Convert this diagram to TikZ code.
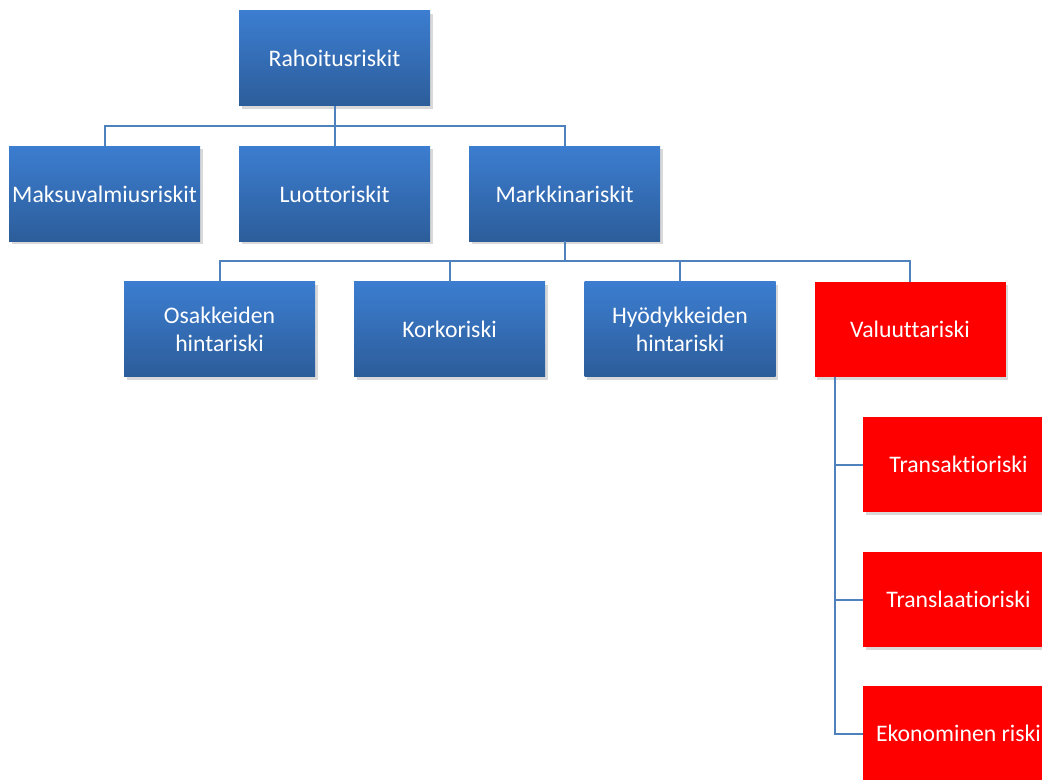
\documentclass[tikz,border=0pt]{standalone}
\usepackage{fontspec}
\setmainfont{Carlito}[Ligatures=NoCommon]
\usetikzlibrary{shadows}

\definecolor{boxtop}{RGB}{60,125,208}
\definecolor{boxbottom}{RGB}{44,93,154}
\definecolor{linkblue}{RGB}{79,129,189}
\definecolor{riskred}{RGB}{255,0,0}

\tikzset{every picture/.style={line width=0.75pt}}
\tikzset{
  riskbox/.style={rectangle, minimum width=143.25pt, minimum height=71.25pt,
    inner sep=0pt, outer sep=0pt, align=center, text=white,
    font=\fontsize{17.8}{21}\selectfont,
    drop shadow={opacity=0.3, shadow xshift=2pt, shadow yshift=-2pt}},
  bluebox/.style={riskbox, top color=boxtop, bottom color=boxbottom},
  redbox/.style={riskbox, fill=riskred},
  link/.style={draw=linkblue, line width=1.5pt}
}

\begin{document}
\begin{tikzpicture}[x=0.75pt,y=0.75pt,yscale=-1,xscale=1]
\useasboundingbox (0,0) rectangle (1042,780);

% Top box
\node [bluebox] (rahoitus) at (334.5,58.5) {Rahoitusriskit};

% Second row
\node [bluebox] (maksu) at (104.5,194) {Maksuvalmiusriskit};
\node [bluebox] (luotto) at (334.5,194) {Luottoriskit};
\node [bluebox] (markkina) at (564.5,194) {Markkinariskit};

% Third row
\node [bluebox] (osake) at (219.5,329.5) {Osakkeiden\\hintariski};
\node [bluebox] (korko) at (449.5,329.5) {Korkoriski};
\node [bluebox] (hyodyke) at (680,329.5) {Hyödykkeiden\\hintariski};
\node [redbox] (valuutta) at (910,329.5) {Valuuttariski};

% Currency risk types
\node [redbox] (transaktio) at (958.5,464.5) {Transaktioriski};
\node [redbox] (translaatio) at (958.5,599.5) {Translaatioriski};
\node [redbox] (ekonominen) at (958.5,733.5) {Ekonominen riski};

% Connectors, top level
\draw [link] (rahoitus.south) -- ++(0,20) -| (maksu.north);
\draw [link] (rahoitus.south) -- ++(0,20) -| (luotto.north);
\draw [link] (rahoitus.south) -- ++(0,20) -| (markkina.north);

% Connectors, market risks
\draw [link] (markkina.south) -- ++(0,20) -| (osake.north);
\draw [link] (markkina.south) -- ++(0,20) -| (korko.north);
\draw [link] (markkina.south) -- ++(0,20) -| (hyodyke.north);
\draw [link] (markkina.south) -- ++(0,20) -| (valuutta.north);

% Connectors, currency risks
\coordinate (vstem) at ([xshift=15pt]valuutta.south west);
\draw [link] (vstem) |- (transaktio.west);
\draw [link] (vstem) |- (translaatio.west);
\draw [link] (vstem) |- (ekonominen.west);

\end{tikzpicture}
\end{document}
